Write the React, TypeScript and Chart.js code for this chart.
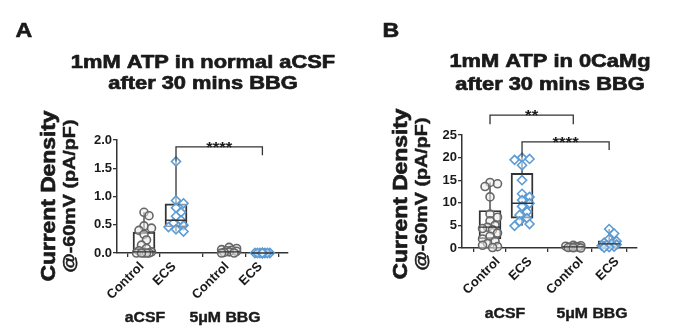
import React, { useEffect, useRef } from 'react';
import { Chart, registerables } from 'chart.js';
Chart.register(...registerables);

const FONT = "'Liberation Sans', Arial, Helvetica, sans-serif";
const INK = '#1a1a1a';
const LINE = '#333333';
const GREY = '#666666';
const BLUE = '#5b9bd5';

// ---------- shared categories ----------
const categories = ['Control', 'ECS', 'Control', 'ECS'];
const groupLabels = ['aCSF', '5μM BBG'];

// ---------- Panel A: 1mM ATP in normal aCSF ----------
const aPositions = [1, 2, 3.66, 4.7];
const aCtrlACSF = [0.72, 0.66, 0.48, 0.44, 0.4, 0.33, 0.23, 0.14, 0.08, 0.04, 0.02, 0, 0, 0, 0, 0];
const aEcsACSF = [1.62, 0.93, 0.88, 0.8, 0.72, 0.65, 0.58, 0.53, 0.49, 0.46, 0.42, 0.38];
const aCtrlBBG = [0.1, 0.08, 0.06, 0.05, 0.04, 0.03, 0.02, 0.01, 0, 0];
const aEcsBBG = [0, 0, 0, 0, 0, 0, 0, 0, 0, 0];
const aMin = [0, 0.38, 0, 0];
const aQ1 = [0, 0.46, 0.005, 0];
const aMed = [0.02, 0.58, 0.02, 0];
const aQ3 = [0.37, 0.87, 0.05, 0];
const aMax = [0.72, 1.62, 0.1, 0];
const aYTicks = [0, 0.5, 1, 1.5, 2];
const aYTickLabels = ['0.0', '0.5', '1.0', '1.5', '2.0'];
// bracket: [from index, to index, top value, left end value, right end value]
const aBrackets = [[1, 3, 1.88, 1.62, 1.73]];
const aBracketLabels = ['****'];

// ---------- Panel B: 1mM ATP in 0CaMg ----------
const bPositions = [1, 2, 3.6, 4.72];
const bCtrlACSF = [14.5, 14.2, 13.6, 11.3, 7.5, 6.8, 6.0, 5.0, 4.6, 4.3, 4.0, 3.3, 2.6, 2.0, 1.5, 1.0, 0.6, 0.3, 0.1];
const bEcsACSF = [20.0, 19.7, 19.5, 18.3, 15.0, 12.0, 11.3, 10.6, 9.9, 9.2, 8.0, 7.3, 6.6, 5.9, 5.3, 4.9];
const bCtrlBBG = [0.6, 0.5, 0.4, 0.3, 0.2, 0.2, 0.1, 0.05, 0];
const bEcsBBG = [4.2, 3.2, 2.0, 1.5, 1.2, 1.0, 0.8, 0.6, 0.5, 0.3, 0.2, 0.1];
const bMin = [0.1, 4.9, 0, 0.1];
const bQ1 = [2.0, 6.6, 0.1, 0.3];
const bMed = [4.6, 9.9, 0.25, 0.9];
const bQ3 = [8.3, 16.5, 0.45, 1.6];
const bMax = [14.5, 20.0, 0.6, 4.2];
const bYTicks = [0, 5, 10, 15, 20, 25];
const bYTickLabels = ['0', '5', '10', '15', '20', '25'];
const bBrackets = [
  [0, 2, 29.4, 27.4, 27.4],
  [1, 3, 23.5, 20.0, 21.7],
];
const bBracketLabels = ['**', '****'];

type Spec = {
  letter: string;
  title: string[];
  positions: number[];
  groups: number[][];
  min: number[]; q1: number[]; med: number[]; q3: number[]; max: number[];
  yMax: number; yTicks: number[]; yTickLabels: string[];
  brackets: number[][]; bracketLabels: string[];
  xMin: number; xMax: number;
  canvasW: number;
  area: { left: number; right: number; top: number; bottom: number };
  labelOffset: number;
  letterX: number; titleX: number; titleY: number[];
  yTitleX: number[]; yTitleY: number;
  groupX: number[]; groupY: number;
};

const specA: Spec = {
  letter: 'A',
  title: ['1mM ATP in normal aCSF', 'after 30 mins BBG'],
  positions: aPositions,
  groups: [aCtrlACSF, aEcsACSF, aCtrlBBG, aEcsBBG],
  min: aMin, q1: aQ1, med: aMed, q3: aQ3, max: aMax,
  yMax: 2, yTicks: aYTicks, yTickLabels: aYTickLabels,
  brackets: aBrackets, bracketLabels: aBracketLabels,
  xMin: 0.156, xMax: 5.5,
  canvasW: 348,
  area: { left: 117, right: 288, top: 140, bottom: 253 },
  labelOffset: -2,
  letterX: 24, titleX: 203, titleY: [68, 89],
  yTitleX: [49, 70], yTitleY: 196,
  groupX: [145, 225], groupY: 318,
};

const specB: Spec = {
  letter: 'B',
  title: ['1mM ATP in 0CaMg', 'after 30 mins BBG'],
  positions: bPositions,
  groups: [bCtrlACSF, bEcsACSF, bCtrlBBG, bEcsBBG],
  min: bMin, q1: bQ1, med: bMed, q3: bQ3, max: bMax,
  yMax: 25, yTicks: bYTicks, yTickLabels: bYTickLabels,
  brackets: bBrackets, bracketLabels: bBracketLabels,
  xMin: 0.125, xMax: 5.59,
  canvasW: 347,
  area: { left: 114, right: 289, top: 135, bottom: 248 },
  labelOffset: 8,
  letterX: 43, titleX: 202, titleY: [67, 90],
  yTitleX: [53, 74], yTitleY: 194,
  groupX: [157, 244], groupY: 314,
};

// deterministic beeswarm offsets (pixels -> x units)
function swarm(values: number[], pxPerY: number, pxPerX: number) {
  const step = 2.5, maxOff = 7.5, minDist = 6;
  const order = values.map((_, i) => i).sort((a, b) => values[b] - values[a]);
  const slots = [0];
  for (let k = step; k <= maxOff + 1e-9; k += step) slots.push(k, -k);
  const placed: { x: number; y: number }[] = [];
  const offs = new Array(values.length).fill(0);
  for (const i of order) {
    const y = values[i] * pxPerY;
    let best = 0, bestD = -1;
    for (const s of slots) {
      let d = Infinity;
      for (const p of placed) d = Math.min(d, Math.hypot(p.x - s, p.y - y));
      if (d >= minDist) { best = s; bestD = d; break; }
      if (d > bestD) { bestD = d; best = s; }
    }
    placed.push({ x: best, y });
    offs[i] = best / pxPerX;
  }
  return offs;
}

function drawText(ctx: CanvasRenderingContext2D, text: string, x: number, y: number, font: string, sx: number, rot = 0, baseline: CanvasTextBaseline = 'alphabetic', stroke = 0) {
  ctx.save();
  ctx.translate(x, y);
  if (rot) ctx.rotate(rot);
  ctx.scale(sx, 1);
  ctx.font = font;
  ctx.textAlign = 'center';
  ctx.textBaseline = baseline;
  ctx.fillStyle = INK;
  ctx.fillText(text, 0, 0);
  if (stroke > 0) {
    ctx.strokeStyle = INK;
    ctx.lineWidth = stroke;
    ctx.lineJoin = 'round';
    ctx.strokeText(text, 0, 0);
  }
  ctx.restore();
}

function buildConfig(s: Spec): any {
  const plotW = s.area.right - s.area.left;
  const plotH = s.area.bottom - s.area.top;
  const pxPerX = plotW / (s.xMax - s.xMin);
  const pxPerY = plotH / s.yMax;
  const halfBox = 11 / pxPerX;

  const whiskers: any[] = [];
  const medians: any[] = [];
  s.positions.forEach((p, i) => {
    whiskers.push({ x: p, y: s.q3[i] }, { x: p, y: s.max[i] }, { x: p, y: null });
    whiskers.push({ x: p, y: s.q1[i] }, { x: p, y: s.min[i] }, { x: p, y: null });
    medians.push({ x: p - halfBox, y: s.med[i] }, { x: p + halfBox, y: s.med[i] }, { x: p, y: null });
  });

  const brackets: any[] = [];
  s.brackets.forEach(([a, b, top, le, re]) => {
    const xa = s.positions[a], xb = s.positions[b];
    brackets.push({ x: xa, y: le }, { x: xa, y: top }, { x: xb, y: top }, { x: xb, y: re }, { x: xa, y: null });
  });

  const pointSets = s.groups.map((vals, gi) => {
    const offs = swarm(vals, pxPerY, pxPerX);
    const isEcs = gi % 2 === 1;
    return {
      type: 'line',
      data: vals.map((v, j) => ({ x: s.positions[gi] + offs[j], y: v })),
      showLine: false,
      pointStyle: isEcs ? 'rectRot' : 'circle',
      pointRadius: isEcs ? 4.5 : 4,
      pointBorderWidth: 1.6,
      pointBorderColor: isEcs ? BLUE : GREY,
      pointBackgroundColor: isEcs ? 'rgba(255,255,255,0.5)' : 'rgba(235,235,235,0.55)',
      clip: false,
      order: 2,
    };
  });

  const textPlugin = {
    id: 'panelTexts',
    afterDraw(chart: any) {
      const ctx = chart.ctx as CanvasRenderingContext2D;
      const xs = chart.scales.x, ys = chart.scales.y;
      drawText(ctx, s.letter, s.letterX, 37, `bold 20px ${FONT}`, 1.16, 0, 'alphabetic', 0.6);
      s.title.forEach((t, i) => drawText(ctx, t, s.titleX, s.titleY[i], `bold 19px ${FONT}`, 1.15, 0, 'alphabetic', 0.7));
      drawText(ctx, 'Current Density', s.yTitleX[0], s.yTitleY, `bold 20px ${FONT}`, 1.14, -Math.PI / 2, 'middle', 0.7);
      drawText(ctx, '@-60mV (pA/pF)', s.yTitleX[1], s.yTitleY, `bold 17px ${FONT}`, 1.16, -Math.PI / 2, 'middle', 0.5);
      groupLabels.forEach((g, i) => drawText(ctx, g, s.groupX[i], s.groupY, `bold 14px ${FONT}`, 1.13, 0, 'middle', 0.4));
      s.brackets.forEach(([a, b, top], i) => {
        const cx = (xs.getPixelForValue(s.positions[a]) + xs.getPixelForValue(s.positions[b])) / 2;
        const cy = ys.getPixelForValue(top);
        drawText(ctx, s.bracketLabels[i], cx, cy + 5, `bold 14px ${FONT}`, 1.2);
      });
    },
  };

  const tickFont = { family: FONT, size: 13, weight: 'bold' };

  return {
    type: 'bar',
    data: {
      datasets: [
        {
          type: 'bar',
          data: s.positions.map((p, i) => ({ x: p, y: [s.q1[i], s.q3[i]] })),
          backgroundColor: 'rgba(0,0,0,0)',
          borderColor: LINE,
          borderWidth: 1.3,
          borderSkipped: false,
          barThickness: 22,
          order: 5,
        },
        {
          type: 'line', data: whiskers, borderColor: LINE, borderWidth: 1.3,
          pointRadius: 0, spanGaps: false, clip: false, order: 4,
        },
        ...pointSets,
        {
          type: 'line', data: medians, borderColor: LINE, borderWidth: 1.3,
          pointRadius: 0, spanGaps: false, clip: false, order: 1,
        },
        {
          type: 'line', data: brackets, borderColor: LINE, borderWidth: 1.3,
          pointRadius: 0, spanGaps: false, clip: false, order: 1,
        },
      ],
    },
    options: {
      responsive: false,
      animation: false,
      events: [],
      layout: {
        autoPadding: false,
        padding: { left: 0, top: s.area.top, right: s.canvasW - s.area.right, bottom: 0 },
      },
      plugins: { legend: { display: false }, tooltip: { enabled: false }, title: { display: false } },
      scales: {
        x: {
          type: 'linear',
          min: s.xMin,
          max: s.xMax,
          offset: false,
          afterFit: (sc: any) => { sc.height = 336 - s.area.bottom; },
          afterBuildTicks: (sc: any) => { sc.ticks = s.positions.map((v) => ({ value: v })); },
          ticks: {
            autoSkip: false,
            minRotation: 45,
            maxRotation: 45,
            labelOffset: s.labelOffset,
            padding: 2,
            color: INK,
            font: tickFont,
            callback: (_v: any, i: number) => categories[i],
          },
          grid: { display: true, drawOnChartArea: false, drawTicks: true, tickLength: 4, color: LINE, lineWidth: 1.3 },
          border: { display: true, color: LINE, width: 1.5 },
        },
        y: {
          type: 'linear',
          min: 0,
          max: s.yMax,
          afterFit: (sc: any) => { sc.width = s.area.left; },
          afterBuildTicks: (sc: any) => { sc.ticks = s.yTicks.map((v) => ({ value: v })); },
          ticks: {
            padding: 1,
            color: INK,
            font: tickFont,
            callback: (_v: any, i: number) => s.yTickLabels[i],
          },
          grid: { display: true, drawOnChartArea: false, drawTicks: true, tickLength: 4, color: LINE, lineWidth: 1.3 },
          border: { display: true, color: LINE, width: 1.5 },
        },
      },
    },
    plugins: [textPlugin],
  };
}

function Panel({ spec, left }: { spec: Spec; left: number }) {
  const ref = useRef<HTMLCanvasElement>(null);
  useEffect(() => {
    const chart = new Chart(ref.current as HTMLCanvasElement, buildConfig(spec));
    return () => chart.destroy();
  }, [spec]);
  return (
    <div style={{ position: 'absolute', left, top: 0, width: spec.canvasW, height: 336 }}>
      <canvas ref={ref} width={spec.canvasW} height={336} style={{ width: spec.canvasW, height: 336, display: 'block' }} />
    </div>
  );
}

export default function App() {
  return (
    <div style={{ position: 'absolute', left: 0, top: 0, width: 695, height: 336, background: '#ffffff' }}>
      <Panel spec={specA} left={0} />
      <Panel spec={specB} left={348} />
    </div>
  );
}
